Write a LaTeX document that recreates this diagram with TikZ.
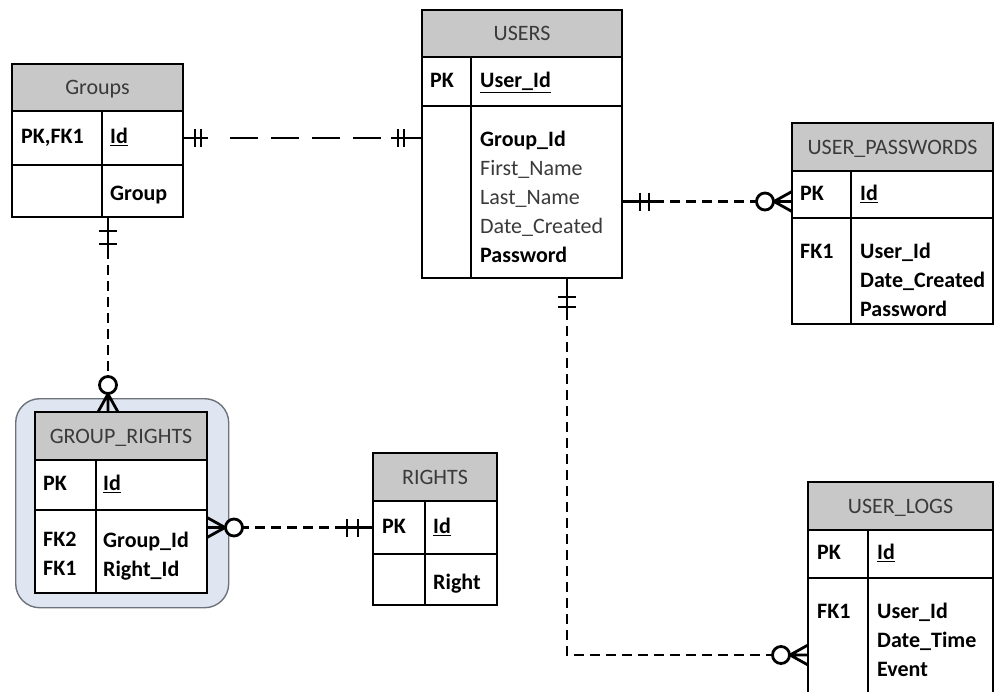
\documentclass[tikz,border=0pt]{standalone}
\usepackage{fontspec}
\setmainfont{Carlito}
\usepackage{tikz}

\definecolor{hdrgray}{HTML}{C8C8C8}
\definecolor{inkgray}{HTML}{3A3A3A}
\definecolor{selblue}{HTML}{DFE6F1}
\definecolor{selline}{HTML}{6E737B}

% relationship ends: origin on the table edge, x pointing away from it
\tikzset{
  pics/bars/.style 2 args={code={
    \draw[rel] (0,0) -- (#2+7,0);
    \draw[rel] (#1,-9) -- (#1,9) (#2,-9) -- (#2,9);
  }},
  pics/zeromany/.style={code={
    \draw[rel] (0,-10) -- (18,0) -- (0,10) (0,0) -- (18,0);
    \draw[rel, fill=white] (27,0) circle (8.5pt);
  }}
}

\begin{document}
\begin{tikzpicture}[x=1pt, y=-1pt,
  cell/.style={rectangle, draw, fill=white, line width=1.8pt, anchor=north west, inner sep=0pt, outer sep=0pt},
  hdr/.style={cell, fill=hdrgray, text=inkgray, text depth=0pt, font=\fontsize{22}{29}\selectfont},
  txt/.style={inner sep=0pt, align=left, text=inkgray, font=\fontsize{22}{29}\selectfont, execute at begin node=\strut},
  key/.style={txt, text=black, font=\fontsize{22}{29}\selectfont\bfseries},
  rel/.style={line width=2.8pt},
  reldash/.style={rel, dash pattern=on 10pt off 6pt},
  selbox/.style={draw=selline, line width=1.4pt, fill=selblue, rounded corners=24pt, anchor=north west}
]
  \useasboundingbox (0,0) rectangle (995,691);
  \clip (0,0) rectangle (995,691);

  % Groups
  \node[hdr, minimum width=171pt, minimum height=47pt] (groups) at (12,64) {Groups};
  \node[cell, minimum width=90pt, minimum height=54pt] (groups-k1) at (groups.south west) {};
  \node[cell, minimum width=81pt, minimum height=54pt] (groups-f1) at (groups-k1.north east) {};
  \node[cell, minimum width=90pt, minimum height=52pt] (groups-k2) at (groups-k1.south west) {};
  \node[cell, minimum width=81pt, minimum height=52pt] (groups-f2) at (groups-k2.north east) {};
  \node[key, anchor=west] (groups-pk) at ([xshift=9pt]groups-k1.west) {PK,FK1};
  \node[key, anchor=west] (groups-id) at ([xshift=8pt]groups-f1.west) {\underline{Id}};
  \node[key, anchor=north west] (groups-grp) at ([shift={(8,15)}]groups-f2.north west) {Group};

  % USERS
  \node[hdr, minimum width=200pt, minimum height=47pt] (users) at (422,10) {USERS};
  \node[cell, minimum width=49pt, minimum height=49pt] (users-k1) at (users.south west) {};
  \node[cell, minimum width=151pt, minimum height=49pt] (users-f1) at (users-k1.north east) {};
  \node[cell, minimum width=49pt, minimum height=172pt] (users-k2) at (users-k1.south west) {};
  \node[cell, minimum width=151pt, minimum height=172pt] (users-f2) at (users-k2.north east) {};
  \node[key, anchor=west] (users-pk) at ([xshift=8pt]users-k1.west) {PK};
  \node[key, anchor=west] (users-id) at ([xshift=9pt]users-f1.west) {\underline{User\_Id}};
  \node[txt, anchor=north west] (users-cols) at ([shift={(9,25)}]users-f2.north west)
    {{\bfseries\color{black}Group\_Id}\\First\_Name\\Last\_Name\\Date\_Created\\{\bfseries\color{black}Password}};

  % USER_PASSWORDS
  \node[hdr, minimum width=201pt, minimum height=48pt] (pw) at (792,123) {USER\_PASSWORDS};
  \node[cell, minimum width=59pt, minimum height=47pt] (pw-k1) at (pw.south west) {};
  \node[cell, minimum width=142pt, minimum height=47pt] (pw-f1) at (pw-k1.north east) {};
  \node[cell, minimum width=59pt, minimum height=106pt] (pw-k2) at (pw-k1.south west) {};
  \node[cell, minimum width=142pt, minimum height=106pt] (pw-f2) at (pw-k2.north east) {};
  \node[key, anchor=west] (pw-pk) at ([xshift=8pt]pw-k1.west) {PK};
  \node[key, anchor=west] (pw-id) at ([xshift=9pt]pw-f1.west) {\underline{Id}};
  \node[key, anchor=north west] (pw-fk) at ([shift={(8,20)}]pw-k2.north west) {FK1};
  \node[key, anchor=north west] (pw-cols) at ([shift={(9,25)}]pw-f2.north west)
    {User\_Id\\Date\_Created\\Password};

  % GROUP_RIGHTS
  \node[selbox, minimum width=213pt, minimum height=209pt] (gr-sel) at (15,398) {};
  \node[hdr, minimum width=172pt, minimum height=48pt] (gr) at (35,412) {GROUP\_RIGHTS};
  \node[cell, minimum width=61pt, minimum height=50pt] (gr-k1) at (gr.south west) {};
  \node[cell, minimum width=111pt, minimum height=50pt] (gr-f1) at (gr-k1.north east) {};
  \node[cell, minimum width=61pt, minimum height=83pt] (gr-k2) at (gr-k1.south west) {};
  \node[cell, minimum width=111pt, minimum height=83pt] (gr-f2) at (gr-k2.north east) {};
  \node[key, anchor=west] (gr-pk) at ([xshift=8pt]gr-k1.west) {PK};
  \node[key, anchor=west] (gr-id) at ([xshift=7pt]gr-f1.west) {\underline{Id}};
  \node[key, anchor=north west] (gr-fk) at ([shift={(8,22)}]gr-k2.north west) {FK2\\FK1};
  \node[key, anchor=north west] (gr-cols) at ([shift={(7,22)}]gr-f2.north west) {Group\_Id\\Right\_Id};

  % RIGHTS
  \node[hdr, minimum width=124pt, minimum height=48pt] (rights) at (373,453) {RIGHTS};
  \node[cell, minimum width=52pt, minimum height=53pt] (rights-k1) at (rights.south west) {};
  \node[cell, minimum width=72pt, minimum height=53pt] (rights-f1) at (rights-k1.north east) {};
  \node[cell, minimum width=52pt, minimum height=51pt] (rights-k2) at (rights-k1.south west) {};
  \node[cell, minimum width=72pt, minimum height=51pt] (rights-f2) at (rights-k2.north east) {};
  \node[key, anchor=west] (rights-pk) at ([xshift=9pt]rights-k1.west) {PK};
  \node[key, anchor=west] (rights-id) at ([xshift=8pt]rights-f1.west) {\underline{Id}};
  \node[key, anchor=north west] (rights-right) at ([shift={(8,15)}]rights-f2.north west) {Right};

  % USER_LOGS
  \node[hdr, minimum width=185pt, minimum height=48pt] (ul) at (808,482) {USER\_LOGS};
  \node[cell, minimum width=60pt, minimum height=48pt] (ul-k1) at (ul.south west) {};
  \node[cell, minimum width=125pt, minimum height=48pt] (ul-f1) at (ul-k1.north east) {};
  \node[cell, minimum width=60pt, minimum height=130pt] (ul-k2) at (ul-k1.south west) {};
  \node[cell, minimum width=125pt, minimum height=130pt] (ul-f2) at (ul-k2.north east) {};
  \node[key, anchor=west] (ul-pk) at ([xshift=9pt]ul-k1.west) {PK};
  \node[key, anchor=west] (ul-id) at ([xshift=9pt]ul-f1.west) {\underline{Id}};
  \node[key, anchor=north west] (ul-fk) at ([shift={(9,20)}]ul-k2.north west) {FK1};
  \node[key, anchor=north west] (ul-cols) at ([shift={(9,25)}]ul-f2.north west)
    {User\_Id\\Date\_Time\\Event};

  % Groups -- USERS
  \coordinate (gu-a) at (groups-f1.east);
  \coordinate (gu-b) at (gu-a -| users-k2.west);
  \draw[rel, dash pattern=on 28pt off 13pt] ([xshift=47pt]gu-a) -- ([xshift=-41pt]gu-b);
  \pic at (gu-a) {bars={12}{18}};
  \pic[rotate=180] at (gu-b) {bars={18}{24}};

  % USERS -- USER_PASSWORDS
  \coordinate (up-b) at ([yshift=-7pt]pw-k1.west);
  \coordinate (up-a) at (up-b -| users-f2.east);
  \draw[reldash] (up-a) -- (up-b);
  \pic at (up-a) {bars={18}{27}};
  \pic[rotate=180] at (up-b) {zeromany};

  % USERS -- USER_LOGS
  \coordinate (ul-a) at ([xshift=96pt]users-f2.south west);
  \coordinate (ul-b) at ([yshift=-77pt]ul-k2.north west);
  \draw[reldash] (ul-a) |- (ul-b);
  \pic[rotate=-90] at (ul-a) {bars={19}{29}};
  \pic[rotate=180] at (ul-b) {zeromany};

  % Groups -- GROUP_RIGHTS
  \coordinate (gg-a) at ([xshift=6pt]groups-f2.south west);
  \coordinate (gg-b) at (gg-a |- gr.north);
  \draw[reldash] (gg-a) -- (gg-b);
  \pic[rotate=-90] at (gg-a) {bars={14}{27}};
  \pic[rotate=90] at (gg-b) {zeromany};

  % GROUP_RIGHTS -- RIGHTS
  \coordinate (rr-b) at (rights-k1.west);
  \coordinate (rr-a) at (rr-b -| gr-f2.east);
  \draw[reldash] (rr-a) -- (rr-b);
  \pic at (rr-a) {zeromany};
  \pic[rotate=180] at (rr-b) {bars={15}{26}};
\end{tikzpicture}
\end{document}
